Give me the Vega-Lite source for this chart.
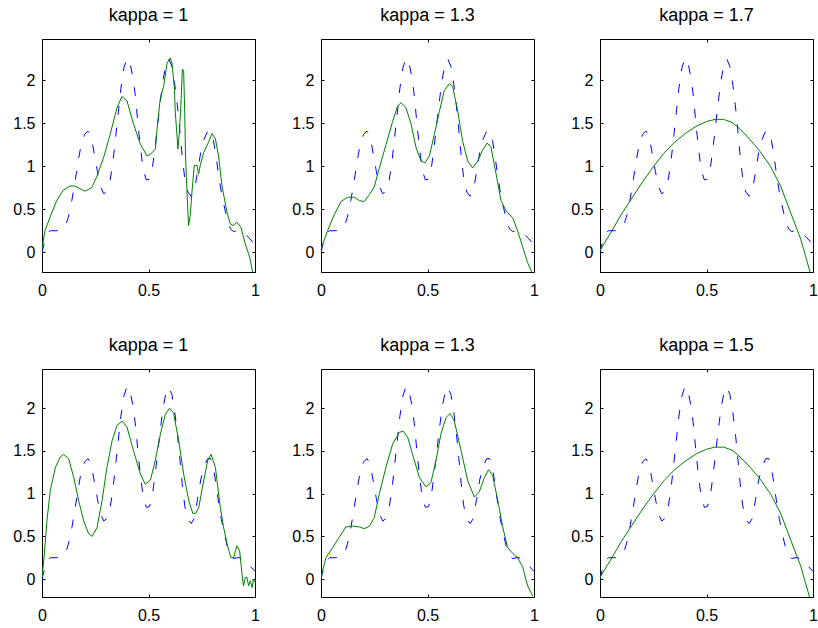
{
  "$schema": "https://vega.github.io/schema/vega-lite/v6.json",
  "background": "white",
  "padding": {"left": 12, "top": 6, "right": 1, "bottom": 4},
  "config": {
    "font": "Liberation Sans",
    "view": {"stroke": "#000000", "strokeWidth": 1},
    "axis": {"labelFont": "Liberation Sans", "labelFontSize": 16, "labelColor": "#000000", "tickColor": "#000000", "tickSize": -3, "tickWidth": 1, "domain": false, "grid": false, "labelFlush": false, "labelOverlap": false},
    "title": {"font": "Liberation Sans", "fontSize": 18, "fontWeight": "normal", "color": "#000000", "offset": 14, "baseline": "alphabetic", "anchor": "middle"}
  },
  "datasets": {
    "truth": [
      {"x": 0.000, "y": 0.00}, {"x": 0.010, "y": 0.10}, {"x": 0.025, "y": 0.22}, {"x": 0.040, "y": 0.25},
      {"x": 0.070, "y": 0.25}, {"x": 0.095, "y": 0.26}, {"x": 0.110, "y": 0.30}, {"x": 0.125, "y": 0.42},
      {"x": 0.140, "y": 0.60}, {"x": 0.155, "y": 0.82}, {"x": 0.170, "y": 1.06}, {"x": 0.185, "y": 1.27},
      {"x": 0.200, "y": 1.37}, {"x": 0.215, "y": 1.41}, {"x": 0.230, "y": 1.36}, {"x": 0.245, "y": 1.15},
      {"x": 0.260, "y": 0.94}, {"x": 0.275, "y": 0.76}, {"x": 0.290, "y": 0.68}, {"x": 0.305, "y": 0.71},
      {"x": 0.320, "y": 0.84}, {"x": 0.333, "y": 1.05}, {"x": 0.345, "y": 1.32}, {"x": 0.358, "y": 1.62},
      {"x": 0.370, "y": 1.90}, {"x": 0.385, "y": 2.15}, {"x": 0.400, "y": 2.26}, {"x": 0.415, "y": 2.18},
      {"x": 0.428, "y": 2.02}, {"x": 0.440, "y": 1.78}, {"x": 0.450, "y": 1.50}, {"x": 0.462, "y": 1.22},
      {"x": 0.475, "y": 0.96}, {"x": 0.490, "y": 0.84}, {"x": 0.505, "y": 0.85}, {"x": 0.518, "y": 0.98},
      {"x": 0.530, "y": 1.20}, {"x": 0.542, "y": 1.46}, {"x": 0.555, "y": 1.74}, {"x": 0.568, "y": 2.00},
      {"x": 0.582, "y": 2.18}, {"x": 0.595, "y": 2.25}, {"x": 0.610, "y": 2.16}, {"x": 0.622, "y": 1.98},
      {"x": 0.635, "y": 1.72}, {"x": 0.647, "y": 1.42}, {"x": 0.658, "y": 1.12}, {"x": 0.670, "y": 0.86},
      {"x": 0.685, "y": 0.70}, {"x": 0.700, "y": 0.65}, {"x": 0.715, "y": 0.71}, {"x": 0.730, "y": 0.93},
      {"x": 0.745, "y": 1.16}, {"x": 0.760, "y": 1.31}, {"x": 0.778, "y": 1.41}, {"x": 0.792, "y": 1.41},
      {"x": 0.805, "y": 1.30}, {"x": 0.818, "y": 1.10}, {"x": 0.830, "y": 0.88}, {"x": 0.842, "y": 0.70},
      {"x": 0.855, "y": 0.54}, {"x": 0.870, "y": 0.38}, {"x": 0.885, "y": 0.27}, {"x": 0.900, "y": 0.24},
      {"x": 0.915, "y": 0.25}, {"x": 0.930, "y": 0.25}, {"x": 0.950, "y": 0.23}, {"x": 0.970, "y": 0.17},
      {"x": 0.985, "y": 0.13}, {"x": 1.000, "y": 0.09}
    ],
    "est": [
      {"p": 1, "x": 0.000, "y": 0.04}, {"p": 1, "x": 0.014, "y": 0.25}, {"p": 1, "x": 0.038, "y": 0.41},
      {"p": 1, "x": 0.069, "y": 0.60}, {"p": 1, "x": 0.100, "y": 0.72}, {"p": 1, "x": 0.131, "y": 0.77},
      {"p": 1, "x": 0.155, "y": 0.77}, {"p": 1, "x": 0.178, "y": 0.74}, {"p": 1, "x": 0.202, "y": 0.71},
      {"p": 1, "x": 0.233, "y": 0.75}, {"p": 1, "x": 0.256, "y": 0.87}, {"p": 1, "x": 0.289, "y": 1.10},
      {"p": 1, "x": 0.320, "y": 1.37}, {"p": 1, "x": 0.352, "y": 1.68}, {"p": 1, "x": 0.375, "y": 1.81},
      {"p": 1, "x": 0.399, "y": 1.76}, {"p": 1, "x": 0.430, "y": 1.49}, {"p": 1, "x": 0.461, "y": 1.26},
      {"p": 1, "x": 0.493, "y": 1.12}, {"p": 1, "x": 0.510, "y": 1.14}, {"p": 1, "x": 0.532, "y": 1.20},
      {"p": 1, "x": 0.540, "y": 1.43}, {"p": 1, "x": 0.555, "y": 1.78}, {"p": 1, "x": 0.571, "y": 1.93},
      {"p": 1, "x": 0.587, "y": 2.20}, {"p": 1, "x": 0.602, "y": 2.26}, {"p": 1, "x": 0.610, "y": 2.20},
      {"p": 1, "x": 0.621, "y": 1.93}, {"p": 1, "x": 0.626, "y": 1.62}, {"p": 1, "x": 0.634, "y": 1.35},
      {"p": 1, "x": 0.638, "y": 1.20}, {"p": 1, "x": 0.646, "y": 1.43}, {"p": 1, "x": 0.654, "y": 1.82},
      {"p": 1, "x": 0.659, "y": 2.13}, {"p": 1, "x": 0.665, "y": 2.11}, {"p": 1, "x": 0.670, "y": 1.62},
      {"p": 1, "x": 0.674, "y": 1.12}, {"p": 1, "x": 0.680, "y": 0.74}, {"p": 1, "x": 0.688, "y": 0.31},
      {"p": 1, "x": 0.696, "y": 0.43}, {"p": 1, "x": 0.704, "y": 0.70}, {"p": 1, "x": 0.715, "y": 1.01},
      {"p": 1, "x": 0.728, "y": 1.01}, {"p": 1, "x": 0.735, "y": 0.91}, {"p": 1, "x": 0.743, "y": 1.01},
      {"p": 1, "x": 0.759, "y": 1.16}, {"p": 1, "x": 0.782, "y": 1.28}, {"p": 1, "x": 0.798, "y": 1.38},
      {"p": 1, "x": 0.814, "y": 1.32}, {"p": 1, "x": 0.829, "y": 1.12}, {"p": 1, "x": 0.845, "y": 0.77},
      {"p": 1, "x": 0.869, "y": 0.46}, {"p": 1, "x": 0.884, "y": 0.33}, {"p": 1, "x": 0.897, "y": 0.31},
      {"p": 1, "x": 0.915, "y": 0.35}, {"p": 1, "x": 0.934, "y": 0.29}, {"p": 1, "x": 0.954, "y": 0.10},
      {"p": 1, "x": 0.975, "y": -0.06}, {"p": 1, "x": 0.989, "y": -0.23},

      {"p": 2, "x": 0.000, "y": 0.04}, {"p": 2, "x": 0.031, "y": 0.25}, {"p": 2, "x": 0.063, "y": 0.44},
      {"p": 2, "x": 0.094, "y": 0.59}, {"p": 2, "x": 0.125, "y": 0.64}, {"p": 2, "x": 0.156, "y": 0.64},
      {"p": 2, "x": 0.180, "y": 0.60}, {"p": 2, "x": 0.203, "y": 0.59}, {"p": 2, "x": 0.227, "y": 0.67},
      {"p": 2, "x": 0.250, "y": 0.76}, {"p": 2, "x": 0.274, "y": 0.98}, {"p": 2, "x": 0.305, "y": 1.25},
      {"p": 2, "x": 0.336, "y": 1.52}, {"p": 2, "x": 0.360, "y": 1.70}, {"p": 2, "x": 0.376, "y": 1.74},
      {"p": 2, "x": 0.399, "y": 1.68}, {"p": 2, "x": 0.423, "y": 1.49}, {"p": 2, "x": 0.446, "y": 1.22},
      {"p": 2, "x": 0.470, "y": 1.06}, {"p": 2, "x": 0.488, "y": 1.04}, {"p": 2, "x": 0.509, "y": 1.12},
      {"p": 2, "x": 0.532, "y": 1.37}, {"p": 2, "x": 0.556, "y": 1.64}, {"p": 2, "x": 0.579, "y": 1.88},
      {"p": 2, "x": 0.603, "y": 1.96}, {"p": 2, "x": 0.618, "y": 1.93}, {"p": 2, "x": 0.642, "y": 1.64},
      {"p": 2, "x": 0.665, "y": 1.29}, {"p": 2, "x": 0.689, "y": 1.06}, {"p": 2, "x": 0.712, "y": 0.98},
      {"p": 2, "x": 0.736, "y": 1.06}, {"p": 2, "x": 0.759, "y": 1.19}, {"p": 2, "x": 0.780, "y": 1.27},
      {"p": 2, "x": 0.798, "y": 1.22}, {"p": 2, "x": 0.822, "y": 0.91}, {"p": 2, "x": 0.845, "y": 0.60},
      {"p": 2, "x": 0.869, "y": 0.48}, {"p": 2, "x": 0.900, "y": 0.40}, {"p": 2, "x": 0.923, "y": 0.25},
      {"p": 2, "x": 0.947, "y": 0.06}, {"p": 2, "x": 0.970, "y": -0.12}, {"p": 2, "x": 0.989, "y": -0.23},

      {"p": 3, "x": 0.000, "y": 0.02}, {"p": 3, "x": 0.056, "y": 0.25}, {"p": 3, "x": 0.100, "y": 0.44},
      {"p": 3, "x": 0.150, "y": 0.63}, {"p": 3, "x": 0.200, "y": 0.82}, {"p": 3, "x": 0.252, "y": 1.00},
      {"p": 3, "x": 0.300, "y": 1.15}, {"p": 3, "x": 0.346, "y": 1.27}, {"p": 3, "x": 0.400, "y": 1.38},
      {"p": 3, "x": 0.455, "y": 1.47}, {"p": 3, "x": 0.500, "y": 1.52}, {"p": 3, "x": 0.540, "y": 1.545},
      {"p": 3, "x": 0.580, "y": 1.545}, {"p": 3, "x": 0.620, "y": 1.51}, {"p": 3, "x": 0.645, "y": 1.46},
      {"p": 3, "x": 0.690, "y": 1.35}, {"p": 3, "x": 0.746, "y": 1.19}, {"p": 3, "x": 0.800, "y": 1.00},
      {"p": 3, "x": 0.848, "y": 0.77}, {"p": 3, "x": 0.895, "y": 0.46}, {"p": 3, "x": 0.942, "y": 0.155},
      {"p": 3, "x": 0.986, "y": -0.23},

      {"p": 4, "x": 0.000, "y": 0.02}, {"p": 4, "x": 0.011, "y": 0.29}, {"p": 4, "x": 0.023, "y": 0.68},
      {"p": 4, "x": 0.039, "y": 1.04}, {"p": 4, "x": 0.063, "y": 1.31}, {"p": 4, "x": 0.086, "y": 1.43},
      {"p": 4, "x": 0.102, "y": 1.46}, {"p": 4, "x": 0.125, "y": 1.41}, {"p": 4, "x": 0.149, "y": 1.19},
      {"p": 4, "x": 0.172, "y": 0.92}, {"p": 4, "x": 0.196, "y": 0.68}, {"p": 4, "x": 0.219, "y": 0.53},
      {"p": 4, "x": 0.235, "y": 0.50}, {"p": 4, "x": 0.258, "y": 0.60}, {"p": 4, "x": 0.282, "y": 0.92},
      {"p": 4, "x": 0.305, "y": 1.31}, {"p": 4, "x": 0.329, "y": 1.62}, {"p": 4, "x": 0.352, "y": 1.80},
      {"p": 4, "x": 0.376, "y": 1.85}, {"p": 4, "x": 0.399, "y": 1.78}, {"p": 4, "x": 0.430, "y": 1.50},
      {"p": 4, "x": 0.462, "y": 1.23}, {"p": 4, "x": 0.485, "y": 1.11}, {"p": 4, "x": 0.509, "y": 1.16},
      {"p": 4, "x": 0.532, "y": 1.39}, {"p": 4, "x": 0.556, "y": 1.70}, {"p": 4, "x": 0.579, "y": 1.93},
      {"p": 4, "x": 0.599, "y": 2.00}, {"p": 4, "x": 0.618, "y": 1.94}, {"p": 4, "x": 0.642, "y": 1.62},
      {"p": 4, "x": 0.665, "y": 1.23}, {"p": 4, "x": 0.689, "y": 0.92}, {"p": 4, "x": 0.708, "y": 0.77},
      {"p": 4, "x": 0.722, "y": 0.77}, {"p": 4, "x": 0.736, "y": 0.84}, {"p": 4, "x": 0.759, "y": 1.15},
      {"p": 4, "x": 0.778, "y": 1.39}, {"p": 4, "x": 0.794, "y": 1.46}, {"p": 4, "x": 0.814, "y": 1.31},
      {"p": 4, "x": 0.837, "y": 0.84}, {"p": 4, "x": 0.853, "y": 0.60}, {"p": 4, "x": 0.869, "y": 0.41},
      {"p": 4, "x": 0.887, "y": 0.25}, {"p": 4, "x": 0.900, "y": 0.25}, {"p": 4, "x": 0.915, "y": 0.39},
      {"p": 4, "x": 0.928, "y": 0.33}, {"p": 4, "x": 0.939, "y": 0.06}, {"p": 4, "x": 0.946, "y": -0.08},
      {"p": 4, "x": 0.955, "y": 0.02}, {"p": 4, "x": 0.962, "y": 0.02}, {"p": 4, "x": 0.970, "y": -0.08},
      {"p": 4, "x": 0.978, "y": -0.02}, {"p": 4, "x": 0.986, "y": -0.10}, {"p": 4, "x": 0.993, "y": 0.00},
      {"p": 4, "x": 1.000, "y": -0.04},

      {"p": 5, "x": 0.000, "y": 0.02}, {"p": 5, "x": 0.023, "y": 0.25}, {"p": 5, "x": 0.055, "y": 0.37},
      {"p": 5, "x": 0.086, "y": 0.49}, {"p": 5, "x": 0.117, "y": 0.61}, {"p": 5, "x": 0.149, "y": 0.62},
      {"p": 5, "x": 0.180, "y": 0.61}, {"p": 5, "x": 0.203, "y": 0.59}, {"p": 5, "x": 0.227, "y": 0.62},
      {"p": 5, "x": 0.250, "y": 0.72}, {"p": 5, "x": 0.274, "y": 1.00}, {"p": 5, "x": 0.305, "y": 1.31},
      {"p": 5, "x": 0.336, "y": 1.58}, {"p": 5, "x": 0.368, "y": 1.72}, {"p": 5, "x": 0.387, "y": 1.73},
      {"p": 5, "x": 0.407, "y": 1.66}, {"p": 5, "x": 0.430, "y": 1.46}, {"p": 5, "x": 0.462, "y": 1.19},
      {"p": 5, "x": 0.493, "y": 1.08}, {"p": 5, "x": 0.516, "y": 1.13}, {"p": 5, "x": 0.540, "y": 1.39},
      {"p": 5, "x": 0.563, "y": 1.70}, {"p": 5, "x": 0.587, "y": 1.89}, {"p": 5, "x": 0.606, "y": 1.94},
      {"p": 5, "x": 0.626, "y": 1.85}, {"p": 5, "x": 0.658, "y": 1.50}, {"p": 5, "x": 0.689, "y": 1.15},
      {"p": 5, "x": 0.720, "y": 0.96}, {"p": 5, "x": 0.743, "y": 1.02}, {"p": 5, "x": 0.767, "y": 1.19},
      {"p": 5, "x": 0.787, "y": 1.28}, {"p": 5, "x": 0.806, "y": 1.21}, {"p": 5, "x": 0.830, "y": 0.92},
      {"p": 5, "x": 0.853, "y": 0.61}, {"p": 5, "x": 0.876, "y": 0.37}, {"p": 5, "x": 0.900, "y": 0.30},
      {"p": 5, "x": 0.923, "y": 0.25}, {"p": 5, "x": 0.947, "y": 0.14}, {"p": 5, "x": 0.970, "y": -0.08},
      {"p": 5, "x": 0.994, "y": -0.20},

      {"p": 6, "x": 0.000, "y": 0.02}, {"p": 6, "x": 0.056, "y": 0.25}, {"p": 6, "x": 0.100, "y": 0.44},
      {"p": 6, "x": 0.150, "y": 0.63}, {"p": 6, "x": 0.200, "y": 0.82}, {"p": 6, "x": 0.252, "y": 1.00},
      {"p": 6, "x": 0.300, "y": 1.15}, {"p": 6, "x": 0.346, "y": 1.27}, {"p": 6, "x": 0.400, "y": 1.38},
      {"p": 6, "x": 0.455, "y": 1.47}, {"p": 6, "x": 0.500, "y": 1.52}, {"p": 6, "x": 0.540, "y": 1.545},
      {"p": 6, "x": 0.580, "y": 1.545}, {"p": 6, "x": 0.620, "y": 1.51}, {"p": 6, "x": 0.645, "y": 1.46},
      {"p": 6, "x": 0.690, "y": 1.35}, {"p": 6, "x": 0.746, "y": 1.19}, {"p": 6, "x": 0.800, "y": 1.00},
      {"p": 6, "x": 0.848, "y": 0.77}, {"p": 6, "x": 0.895, "y": 0.46}, {"p": 6, "x": 0.942, "y": 0.155},
      {"p": 6, "x": 0.986, "y": -0.23}
    ]
  },
  "columns": 3,
  "spacing": {"row": 97, "column": 66},
  "bounds": "flush",
  "concat": [
    {"width": 213, "height": 233, "title": "kappa = 1",
     "layer": [
      {"data": {"name": "truth"}, "mark": {"type": "line", "color": "#0000ff", "strokeDash": [9, 13], "strokeWidth": 1, "clip": true},
       "encoding": {"x": {"field": "x", "type": "quantitative", "title": null, "scale": {"domain": [0, 1], "nice": false, "zero": false}, "axis": {"orient": "bottom", "values": [0, 0.5, 1], "format": "~g", "labelPadding": 13}},
                    "y": {"field": "y", "type": "quantitative", "title": null, "scale": {"domain": [-0.23, 2.48], "nice": false, "zero": false}, "axis": {"orient": "left", "values": [0, 0.5, 1, 1.5, 2], "format": "~g", "labelPadding": 10}}}},
      {"data": {"name": "est"}, "transform": [{"filter": "datum.p == 1"}], "mark": {"type": "line", "color": "#008000", "strokeWidth": 1, "clip": true},
       "encoding": {"x": {"field": "x", "type": "quantitative", "title": null, "axis": {"orient": "top", "values": [0, 0.5, 1], "labels": false}},
                    "y": {"field": "y", "type": "quantitative", "title": null, "axis": {"orient": "right", "values": [0, 0.5, 1, 1.5, 2], "labels": false}}}}
     ],
     "resolve": {"axis": {"x": "independent", "y": "independent"}}},
    {"width": 213, "height": 233, "title": "kappa = 1.3",
     "layer": [
      {"data": {"name": "truth"}, "mark": {"type": "line", "color": "#0000ff", "strokeDash": [9, 13], "strokeWidth": 1, "clip": true},
       "encoding": {"x": {"field": "x", "type": "quantitative", "title": null, "scale": {"domain": [0, 1], "nice": false, "zero": false}, "axis": {"orient": "bottom", "values": [0, 0.5, 1], "format": "~g", "labelPadding": 13}},
                    "y": {"field": "y", "type": "quantitative", "title": null, "scale": {"domain": [-0.23, 2.48], "nice": false, "zero": false}, "axis": {"orient": "left", "values": [0, 0.5, 1, 1.5, 2], "format": "~g", "labelPadding": 10}}}},
      {"data": {"name": "est"}, "transform": [{"filter": "datum.p == 2"}], "mark": {"type": "line", "color": "#008000", "strokeWidth": 1, "clip": true},
       "encoding": {"x": {"field": "x", "type": "quantitative", "title": null, "axis": {"orient": "top", "values": [0, 0.5, 1], "labels": false}},
                    "y": {"field": "y", "type": "quantitative", "title": null, "axis": {"orient": "right", "values": [0, 0.5, 1, 1.5, 2], "labels": false}}}}
     ],
     "resolve": {"axis": {"x": "independent", "y": "independent"}}},
    {"width": 213, "height": 233, "title": "kappa = 1.7",
     "layer": [
      {"data": {"name": "truth"}, "mark": {"type": "line", "color": "#0000ff", "strokeDash": [9, 13], "strokeWidth": 1, "clip": true},
       "encoding": {"x": {"field": "x", "type": "quantitative", "title": null, "scale": {"domain": [0, 1], "nice": false, "zero": false}, "axis": {"orient": "bottom", "values": [0, 0.5, 1], "format": "~g", "labelPadding": 13}},
                    "y": {"field": "y", "type": "quantitative", "title": null, "scale": {"domain": [-0.23, 2.48], "nice": false, "zero": false}, "axis": {"orient": "left", "values": [0, 0.5, 1, 1.5, 2], "format": "~g", "labelPadding": 10}}}},
      {"data": {"name": "est"}, "transform": [{"filter": "datum.p == 3"}], "mark": {"type": "line", "color": "#008000", "strokeWidth": 1, "clip": true},
       "encoding": {"x": {"field": "x", "type": "quantitative", "title": null, "axis": {"orient": "top", "values": [0, 0.5, 1], "labels": false}},
                    "y": {"field": "y", "type": "quantitative", "title": null, "axis": {"orient": "right", "values": [0, 0.5, 1, 1.5, 2], "labels": false}}}}
     ],
     "resolve": {"axis": {"x": "independent", "y": "independent"}}},
    {"width": 213, "height": 228, "title": "kappa = 1",
     "layer": [
      {"data": {"name": "truth"}, "mark": {"type": "line", "color": "#0000ff", "strokeDash": [9, 13], "strokeWidth": 1, "clip": true},
       "encoding": {"x": {"field": "x", "type": "quantitative", "title": null, "scale": {"domain": [0, 1], "nice": false, "zero": false}, "axis": {"orient": "bottom", "values": [0, 0.5, 1], "format": "~g", "labelPadding": 13}},
                    "y": {"field": "y", "type": "quantitative", "title": null, "scale": {"domain": [-0.21, 2.46], "nice": false, "zero": false}, "axis": {"orient": "left", "values": [0, 0.5, 1, 1.5, 2], "format": "~g", "labelPadding": 10}}}},
      {"data": {"name": "est"}, "transform": [{"filter": "datum.p == 4"}], "mark": {"type": "line", "color": "#008000", "strokeWidth": 1, "clip": true},
       "encoding": {"x": {"field": "x", "type": "quantitative", "title": null, "axis": {"orient": "top", "values": [0, 0.5, 1], "labels": false}},
                    "y": {"field": "y", "type": "quantitative", "title": null, "axis": {"orient": "right", "values": [0, 0.5, 1, 1.5, 2], "labels": false}}}}
     ],
     "resolve": {"axis": {"x": "independent", "y": "independent"}}},
    {"width": 213, "height": 228, "title": "kappa = 1.3",
     "layer": [
      {"data": {"name": "truth"}, "mark": {"type": "line", "color": "#0000ff", "strokeDash": [9, 13], "strokeWidth": 1, "clip": true},
       "encoding": {"x": {"field": "x", "type": "quantitative", "title": null, "scale": {"domain": [0, 1], "nice": false, "zero": false}, "axis": {"orient": "bottom", "values": [0, 0.5, 1], "format": "~g", "labelPadding": 13}},
                    "y": {"field": "y", "type": "quantitative", "title": null, "scale": {"domain": [-0.21, 2.46], "nice": false, "zero": false}, "axis": {"orient": "left", "values": [0, 0.5, 1, 1.5, 2], "format": "~g", "labelPadding": 10}}}},
      {"data": {"name": "est"}, "transform": [{"filter": "datum.p == 5"}], "mark": {"type": "line", "color": "#008000", "strokeWidth": 1, "clip": true},
       "encoding": {"x": {"field": "x", "type": "quantitative", "title": null, "axis": {"orient": "top", "values": [0, 0.5, 1], "labels": false}},
                    "y": {"field": "y", "type": "quantitative", "title": null, "axis": {"orient": "right", "values": [0, 0.5, 1, 1.5, 2], "labels": false}}}}
     ],
     "resolve": {"axis": {"x": "independent", "y": "independent"}}},
    {"width": 213, "height": 228, "title": "kappa = 1.5",
     "layer": [
      {"data": {"name": "truth"}, "mark": {"type": "line", "color": "#0000ff", "strokeDash": [9, 13], "strokeWidth": 1, "clip": true},
       "encoding": {"x": {"field": "x", "type": "quantitative", "title": null, "scale": {"domain": [0, 1], "nice": false, "zero": false}, "axis": {"orient": "bottom", "values": [0, 0.5, 1], "format": "~g", "labelPadding": 13}},
                    "y": {"field": "y", "type": "quantitative", "title": null, "scale": {"domain": [-0.21, 2.46], "nice": false, "zero": false}, "axis": {"orient": "left", "values": [0, 0.5, 1, 1.5, 2], "format": "~g", "labelPadding": 10}}}},
      {"data": {"name": "est"}, "transform": [{"filter": "datum.p == 6"}], "mark": {"type": "line", "color": "#008000", "strokeWidth": 1, "clip": true},
       "encoding": {"x": {"field": "x", "type": "quantitative", "title": null, "axis": {"orient": "top", "values": [0, 0.5, 1], "labels": false}},
                    "y": {"field": "y", "type": "quantitative", "title": null, "axis": {"orient": "right", "values": [0, 0.5, 1, 1.5, 2], "labels": false}}}}
     ],
     "resolve": {"axis": {"x": "independent", "y": "independent"}}}
  ]
}
